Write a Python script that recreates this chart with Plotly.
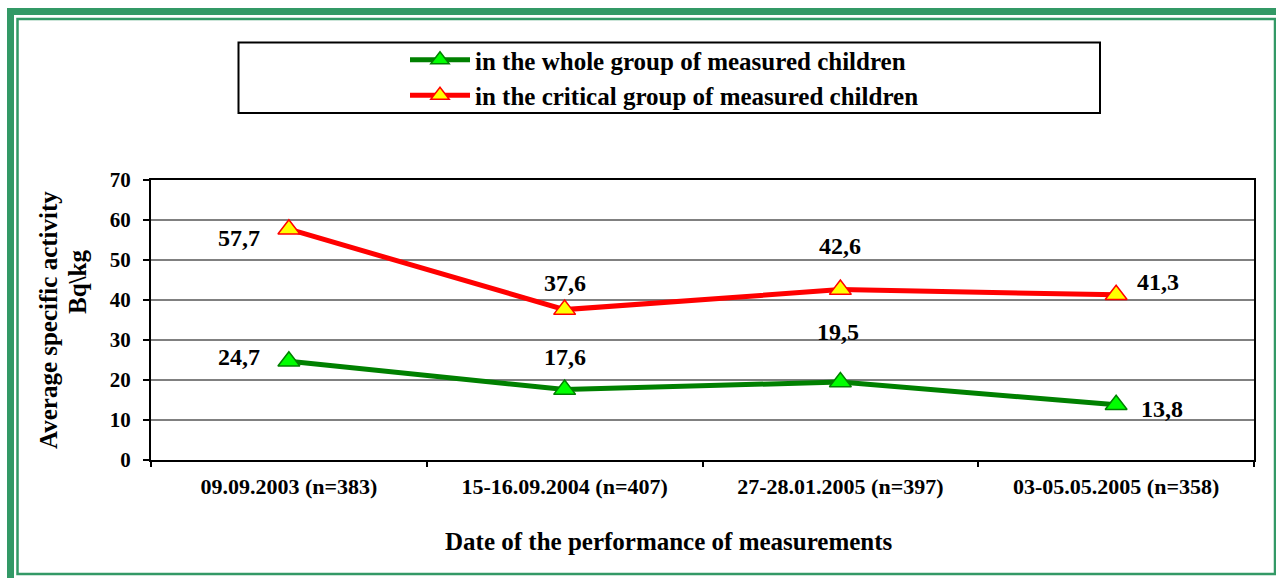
import plotly.graph_objects as go

categories = ["09.09.2003 (n=383)", "15-16.09.2004 (n=407)", "27-28.01.2005 (n=397)", "03-05.05.2005 (n=358)"]
whole_group = [24.7, 17.6, 19.5, 13.8]
critical_group = [57.7, 37.6, 42.6, 41.3]
series_names = ["in the whole group of measured children", "in the critical group of measured children"]
y_ticks = [0, 10, 20, 30, 40, 50, 60, 70]

W, H = 1276, 578
L, R, T, B = 151, 1254, 180, 460
FONT = "'Liberation Serif', 'Times New Roman', Times, serif"


def px_x(px):
    return (px - L) / (R - L)


def px_y(py):
    return (B - py) / (B - T)


def fmt(v):
    return f"{v:.1f}".replace(".", ",")


fig = go.Figure()
fig.add_trace(go.Scatter(
    x=categories, y=whole_group, name=series_names[0], mode="lines+markers",
    line=dict(color="#008000", width=5),
    marker=dict(symbol="triangle-up", size=19, color="#00FF00", line=dict(color="#008000", width=1.5)),
))
fig.add_trace(go.Scatter(
    x=categories, y=critical_group, name=series_names[1], mode="lines+markers",
    line=dict(color="#FF0000", width=5),
    marker=dict(symbol="triangle-up", size=19, color="#FFFF00", line=dict(color="#FF0000", width=1.5)),
))

# data labels
green_shifts = [(-50, 4), (0, 33), (-2, 50), (46, -4)]
red_shifts = [(-50, -9), (0, 27), (0, 44), (42, 13)]
annotations = []
for cat, v, (dx, dy) in zip(categories, whole_group, green_shifts):
    annotations.append(dict(x=cat, y=v, text=fmt(v), showarrow=False, xshift=dx, yshift=dy,
                            xanchor="center", yanchor="middle",
                            font=dict(family=FONT, size=24, color="black", weight="bold")))
for cat, v, (dx, dy) in zip(categories, critical_group, red_shifts):
    annotations.append(dict(x=cat, y=v, text=fmt(v), showarrow=False, xshift=dx, yshift=dy,
                            xanchor="center", yanchor="middle",
                            font=dict(family=FONT, size=24, color="black", weight="bold")))

# axis titles
annotations.append(dict(xref="paper", yref="paper", x=px_x(669), y=px_y(541),
                        xanchor="center", yanchor="middle",
                        text="Date of the performance of measurements", showarrow=False,
                        font=dict(family=FONT, size=25, color="black", weight="bold")))
annotations.append(dict(xref="paper", yref="paper", x=px_x(48), y=px_y(320),
                        xanchor="center", yanchor="middle",
                        text="Average specific activity", showarrow=False, textangle=-90,
                        font=dict(family=FONT, size=25, color="black", weight="bold")))
annotations.append(dict(xref="paper", yref="paper", x=px_x(77), y=px_y(282),
                        xanchor="center", yanchor="middle",
                        text="Bq\\kg", showarrow=False, textangle=-90,
                        font=dict(family=FONT, size=25, color="black", weight="bold")))

shapes = [
    # outer thick green frame
    dict(type="rect", xref="paper", yref="paper", x0=px_x(10.5), x1=px_x(1290), y0=px_y(11.5), y1=px_y(590),
         line=dict(color="#339966", width=7), layer="above"),
    # inner thin green frame
    dict(type="rect", xref="paper", yref="paper", x0=px_x(17.5), x1=px_x(1275), y0=px_y(19), y1=px_y(574),
         line=dict(color="#339966", width=2.5), layer="above"),
    # legend box
    dict(type="rect", xref="paper", yref="paper", x0=px_x(238.5), x1=px_x(1100), y0=px_y(42.5), y1=px_y(113),
         line=dict(color="black", width=2), layer="above"),
]

fig.update_layout(
    width=W, height=H,
    margin=dict(l=L, r=W - R, t=T, b=H - B, pad=0),
    paper_bgcolor="white", plot_bgcolor="white",
    font=dict(family=FONT, color="black"),
    showlegend=True,
    legend=dict(
        x=px_x(405), y=px_y(37), xanchor="left", yanchor="top",
        bgcolor="rgba(0,0,0,0)", borderwidth=0,
        font=dict(family=FONT, size=25, color="black", weight="bold"),
        tracegroupgap=0, itemwidth=60,
    ),
    annotations=annotations,
    shapes=shapes,
)
fig.update_xaxes(
    type="category", range=[-0.5, 3.5], tickson="boundaries", ticks="outside", ticklen=5,
    tickwidth=1.5, tickcolor="black", showline=True, linecolor="black", linewidth=2, mirror=True,
    showgrid=False, ticklabelstandoff=6,
    tickfont=dict(family=FONT, size=22, color="black", weight="bold"),
)
fig.update_yaxes(
    range=[0, 70], tickvals=y_ticks, ticks="outside", ticklen=6, tickwidth=1.5, tickcolor="black",
    showline=True, linecolor="black", linewidth=2, mirror=True,
    showgrid=True, gridcolor="#808080", gridwidth=1.5, zeroline=False, ticklabelstandoff=8,
    tickfont=dict(family=FONT, size=21, color="black", weight="bold"),
)

fig.write_html("out.html", config={"displayModeBar": False},
               post_script="document.body.style.margin='0';document.body.style.overflow='hidden';")
